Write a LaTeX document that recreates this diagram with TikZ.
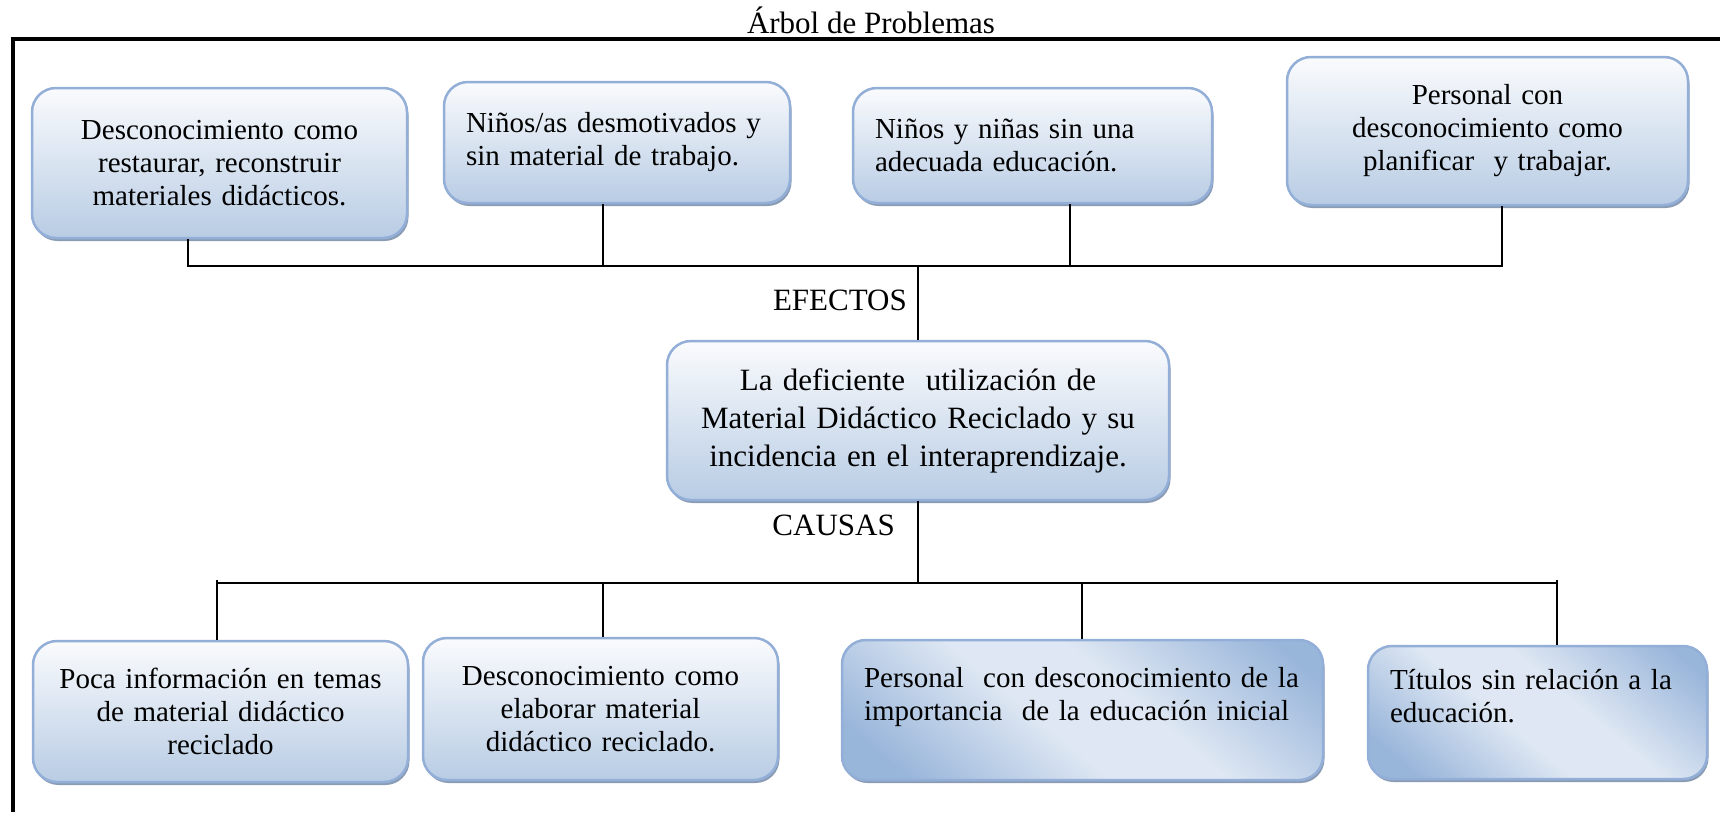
\documentclass[tikz,border=0pt]{standalone}
\usepackage{fontspec}
\setmainfont{Liberation Serif}
\usetikzlibrary{shadows}

\definecolor{boxtop}{HTML}{FAFBFD}
\definecolor{boxbot}{HTML}{B8CCE4}
\definecolor{boxline}{HTML}{93AFD8}
\definecolor{boxdark}{HTML}{98B5DA}
\definecolor{boxlight}{HTML}{DEE7F3}
\definecolor{boxshade}{HTML}{8A9BB4}

\pgfdeclareverticalshading{diagfade}{100bp}{color(0bp)=(boxdark); color(22bp)=(boxdark);
  color(44bp)=(boxlight); color(57bp)=(boxlight); color(80bp)=(boxdark); color(100bp)=(boxdark)}

\tikzset{
  probbox/.style={draw=boxline, line width=2.5pt, rounded corners=24pt,
    inner xsep=22pt, inner ysep=6pt, font=\fontsize{29}{33}\selectfont,
    drop shadow={shadow xshift=1.5pt, shadow yshift=-3pt, fill=boxshade, opacity=1}},
  flatbox/.style={probbox, top color=boxtop, bottom color=boxbot},
  diagbox/.style={probbox, shade, shading=diagfade, shading angle=-40},
  tagtext/.style={font=\fontsize{31}{35}\selectfont, inner sep=0pt},
  treeline/.style={line width=2.2pt}
}

\begin{document}
\begin{tikzpicture}[x=1pt,y=-1pt]
\useasboundingbox (0,0) rectangle (1720,812);

% Title
\draw (871,33) node[tagtext, anchor=base] (title) {Árbol de Problemas};
%Frame
\draw[line width=3.5pt] (13,812) -- (13,39) -- (1720,39);

%efectos
% Text Node
\draw (219.5,163) node[flatbox, text width=331pt, minimum height=150pt, align=center] (t1)
  {Desconocimiento como\\restaurar, reconstruir\\materiales didácticos.};
% Text Node
\draw (617,142.5) node[flatbox, text width=302pt, minimum height=121pt, align=left] (t2)
  {Niños/as desmotivados y\\sin material de trabajo.};
% Text Node
\draw (1032.5,145.5) node[flatbox, text width=315pt, minimum height=115pt, align=left] (t3)
  {Niños y niñas sin una\\adecuada educación.};
% Text Node
\draw (1487.5,131) node[flatbox, text width=357pt, minimum height=148pt, align=center] (t4)
  {Personal con\\desconocimiento como\\planificar\ \ y trabajar.};

%problema central
\draw (918,420.5) node[flatbox, text width=458pt, minimum height=159pt, align=center,
  font=\fontsize{31}{38}\selectfont] (c)
  {La deficiente\ \ utilización de\\Material Didáctico Reciclado y su\\incidencia en el interaprendizaje.};

%causas
% Text Node
\draw (220.5,711.5) node[flatbox, text width=331pt, minimum height=141pt, align=center] (b1)
  {Poca información en temas\\de material didáctico\\reciclado};
% Text Node
\draw (600.5,709) node[flatbox, text width=311pt, minimum height=142pt, align=center] (b2)
  {Desconocimiento como\\elaborar material\\didáctico reciclado.};
% Text Node
\draw (1082.5,710) node[diagbox, text width=437pt, minimum height=140pt, align=left] (b3)
  {Personal\ \ con desconocimiento de la\\importancia\ \ de la educación inicial\\\mbox{}};
% Text Node
\draw (1537.5,712.5) node[diagbox, text width=295pt, minimum height=133pt, align=left] (b4)
  {Títulos sin relación a la\\educación.\\\mbox{}};

%Straight Lines (efectos)
\coordinate (e1) at (188,266);
\coordinate (e2) at (603,266);
\coordinate (e3) at (1070,266);
\coordinate (e4) at (1502,266);
\draw[treeline] (e1 |- t1.south) -- (e1) -- (e4) -- (e4 |- t4.south);
\draw[treeline] (e2 |- t2.south) -- (e2);
\draw[treeline] (e3 |- t3.south) -- (e3);
\draw[treeline] (c.north) -- (c.north |- e1);
% Text Node
\draw (907,310) node[tagtext, anchor=base east] (ef) {EFECTOS};

%Straight Lines (causas)
\coordinate (k1) at (217,583);
\coordinate (k2) at (603,583);
\coordinate (k3) at (1082,583);
\coordinate (k4) at (1557,583);
\draw[treeline] (c.south) -- (c.south |- k1);
\draw[treeline] (k1) -- (k4);
\draw[treeline] ([yshift=3pt]k1) -- (k1 |- b1.north);
\draw[treeline] (k2) -- (k2 |- b2.north);
\draw[treeline] (k3) -- (k3 |- b3.north);
\draw[treeline] ([yshift=3pt]k4) -- (k4 |- b4.north);
% Text Node
\draw (895,535) node[tagtext, anchor=base east] (ca) {CAUSAS};
\end{tikzpicture}
\end{document}
